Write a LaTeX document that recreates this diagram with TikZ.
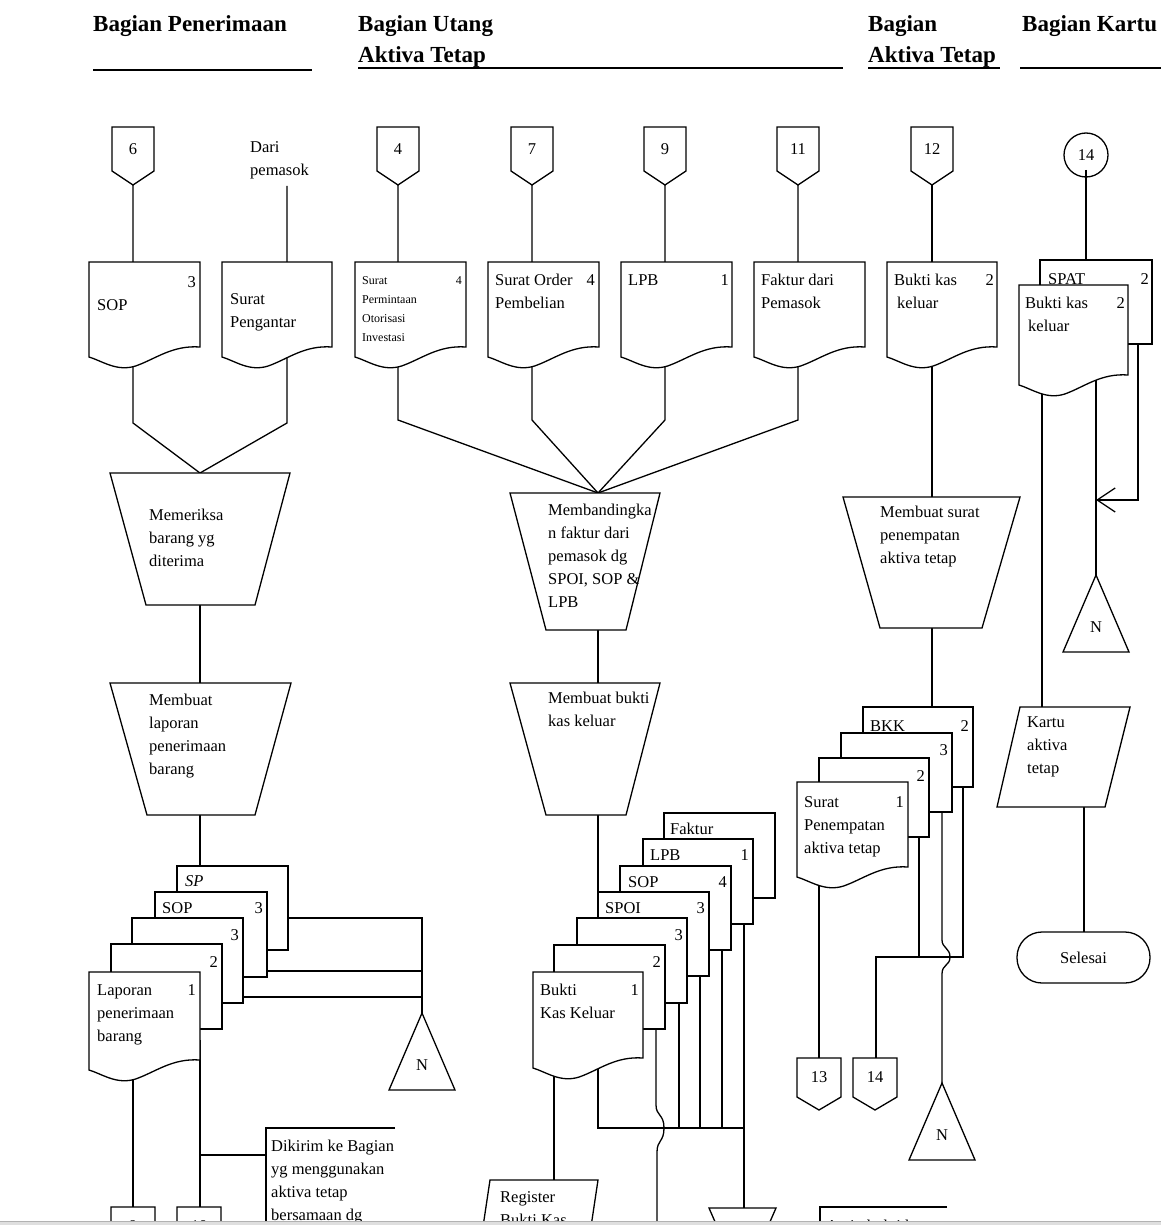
\documentclass[tikz,border=0pt]{standalone}
\usepackage{fontspec}
\setmainfont{Liberation Serif}
\usetikzlibrary{arrows.meta}
\newcommand{\fsz}{\fontsize{16.5}{23}\selectfont}
\newcommand{\fsm}{\fontsize{12}{19}\selectfont}
\newcommand{\fhd}{\fontsize{23}{31}\selectfont\bfseries}
\tikzset{
 ln/.style={line width=1.3pt, line join=miter},
 shp/.style={ln, fill=white},
 hdl/.style={line width=2.2pt},
 tx/.style={anchor=base west, inner sep=0pt, font=\fsz},
 txr/.style={anchor=base east, inner sep=0pt, font=\fsz},
 ml/.style={anchor=north west, inner sep=0pt, font=\fsz, align=left},
 hd/.style={anchor=base west, inner sep=0pt, font=\fhd},
}
% document with wavy bottom: x, y, w, h
\newcommand{\docw}[4]{\begin{scope}[shift={(#1,#2)}]
\filldraw[shp] (0,0) -- (#3,0) -- (#3,{#4-10}) .. controls ({0.75*#3},{#4-12}) and ({0.6*#3},{#4+2}) .. ({0.42*#3},{#4+9}) .. controls ({0.25*#3},{#4+15}) and ({0.12*#3},{#4+4}) .. (0,#4) -- cycle;
\end{scope}}
% back sheet of a stack: x, y, w, h
\newcommand{\docb}[4]{\filldraw[shp] (#1,#2) rectangle ++(#3,#4);}
% off-page connector: name, cx, top, label, side, point, half width
\newcommand{\offpg}[7]{\filldraw[shp] ({#2-#7},#3) -- ({#2+#7},#3) -- ({#2+#7},{#3+#5}) -- (#2,{#3+#6}) -- ({#2-#7},{#3+#5}) -- cycle;
\node[font=\fsz, inner sep=0pt] (#1) at (#2,{#3+#5/2}) {#4};}
% triangle (file): name, apex x, apex y
\newcommand{\filetri}[3]{\filldraw[shp] (#2,#3) -- ({#2+33},{#3+77}) -- ({#2-33},{#3+77}) -- cycle;
\node[font=\fsz, inner sep=0pt] (#1) at (#2,{#3+52}) {N};}
\begin{document}
\begin{tikzpicture}[x=1pt,y=-1pt]
\useasboundingbox (0,0) rectangle (1161,1225);
\fill[white] (0,0) rectangle (1161,1225);
\begin{scope}
\clip (0,0) rectangle (1161,1221);
% ---------- headers
\node[hd] (h1) at (93,32) {Bagian Penerimaan};
\node[hd] (h2a) at (358,32) {Bagian Utang};
\node[hd] (h2b) at (358,63) {Aktiva Tetap};
\node[hd] (h3a) at (868,32) {Bagian};
\node[hd] (h3b) at (868,63) {Aktiva Tetap};
\node[hd] (h4) at (1022,32) {Bagian Kartu};
\draw[hdl] (93,70) -- (312,70);
\draw[hdl] (358,68) -- (843,68);
\draw[hdl] (868,68) -- (1000,68);
\draw[hdl] (1020,68) -- (1161,68);
% ---------- named points
\coordinate (j1) at (200,473);  \coordinate (j1s) at (200,605);
\coordinate (j2) at (200,683);  \coordinate (j2s) at (200,815);
\coordinate (j3) at (598,493);  \coordinate (j3s) at (598,630);
\coordinate (j4) at (598,683);  \coordinate (j4s) at (598,815);
\coordinate (j5) at (932,497);  \coordinate (j5s) at (932,628);
\coordinate (nL) at (422,1013); \coordinate (nR) at (942,1083); \coordinate (nK) at (1096,575);
% ---------- connectors (shapes are drawn over their ends)
\draw[ln] (133,180) -- (133,366) -- (133,423) -- (j1);
\draw[ln] (287,186) -- (287,366) -- (287,423) -- (j1);
\draw[ln] (j1s) -- (j2);
\draw[ln] (j2s) -- (200,900);
\draw[ln] (280,918) -- (422,918) -- (nL);
\draw[ln] (260,971) -- (422,971);
\draw[ln] (235,997) -- (422,997);
\draw[ln] (133,1060) -- (133,1215);
\draw[ln] (200,1040) -- (200,1215);
\draw[ln] (200,1155) -- (266,1155);
\draw[ln] (395,1128) -- (266,1128) -- (266,1230);
\foreach \cx in {398,532,665,798}{\draw[ln] (\cx,180) -- (\cx,420) -- (j3);}
\draw[ln] (j3s) -- (j4);
\draw[ln] (j4s) -- (598,900);
\draw[ln] (598,1050) -- (598,1128) -- (744,1128);
\draw[ln] (679,990) -- (679,1128);
\draw[ln] (700,960) -- (700,1128);
\draw[ln] (722,940) -- (722,1128);
\draw[ln] (744,915) -- (744,1215);
\draw[ln] (656,1020) -- (656,1105) .. controls (656,1116) and (664,1114) .. (664,1128) .. controls (664,1142) and (657,1140) .. (657,1152) -- (657,1230);
\draw[ln] (554,1070) -- (554,1185);
\draw[ln] (932,180) -- (j5);
\draw[ln] (j5s) -- (932,720);
\draw[ln] (963,780) -- (963,957) -- (876,957) -- (876,1062);
\draw[ln] (919,830) -- (919,957);
\draw[ln] (942,800) -- (942,940) .. controls (942,948) and (950,948) .. (950,957) .. controls (950,966) and (942,964) .. (942,974) -- (nR);
\draw[ln] (819,870) -- (819,1062);
\draw[ln] (947,1207) -- (820,1207) -- (820,1230);
\draw[ln] (1086,170) -- (1086,270);
\draw[ln] (1042,380) -- (1042,720);
\draw[ln] (1096,370) -- (nK);
\draw[ln, -{Straight Barb[length=18pt,width=24pt,line width=1.3pt]}] (1138,330) -- (1138,500) -- (1096,500);
\draw[ln] (1084,800) -- (1084,940);
% ---------- off-page connectors
\offpg{c6}{133}{127}{6}{44}{58}{21}
\offpg{c4}{398}{127}{4}{44}{58}{21}
\offpg{c7}{532}{127}{7}{44}{58}{21}
\offpg{c9t}{665}{127}{9}{44}{58}{21}
\offpg{c11}{798}{127}{11}{44}{58}{21}
\offpg{c12}{932}{127}{12}{44}{58}{21}
\offpg{c13}{819}{1058}{13}{39}{52}{22}
\offpg{c14b}{875}{1058}{14}{39}{52}{22}
\offpg{c9}{133}{1207}{9}{39}{52}{22}
\offpg{c10}{199}{1207}{10}{39}{52}{22}
\node[draw, ln, circle, minimum size=44pt, inner sep=0pt, font=\fsz] (c14) at (1086,155) {14};
% ---------- top documents
\docw{89}{262}{111}{95}
\docw{222}{262}{110}{95}
\docw{355}{262}{111}{95}
\docw{488}{262}{111}{95}
\docw{621}{262}{111}{95}
\docw{754}{262}{111}{95}
\docw{887}{262}{110}{95}
\docb{1040}{260}{112}{84}
\docw{1019}{285}{109}{100}
% ---------- processes
\filldraw[shp] (110,473) -- (290,473) -- (255,605) -- (146,605) -- cycle;
\filldraw[shp] (110,683) -- (291,683) -- (255,815) -- (147,815) -- cycle;
\filldraw[shp] (510,493) -- (660,493) -- (626,630) -- (546,630) -- cycle;
\filldraw[shp] (510,683) -- (660,683) -- (626,815) -- (546,815) -- cycle;
\filldraw[shp] (843,497) -- (1020,497) -- (982,628) -- (880,628) -- cycle;
\filldraw[shp] (709,1208) -- (776,1208) -- (762,1240) -- (723,1240) -- cycle;
% ---------- stacks
\docb{177}{866}{111}{84}
\docb{155}{892}{112}{85}
\docb{132}{918}{111}{85}
\docb{111}{944}{111}{85}
\docw{89}{972}{111}{98}
\docb{664}{813}{111}{85}
\docb{643}{839}{110}{85}
\docb{620}{866}{111}{84}
\docb{598}{892}{111}{84}
\docb{577}{918}{110}{85}
\docb{554}{945}{111}{84}
\docw{533}{972}{110}{96}
\docb{863}{707}{110}{80}
\docb{841}{733}{111}{79}
\docb{819}{758}{110}{79}
\docw{797}{782}{111}{95}
% ---------- files, I/O, terminal
\filetri{tL}{422}{1013}
\filetri{tR}{942}{1083}
\filetri{tK}{1096}{575}
\filldraw[shp] (1020,707) -- (1130,707) -- (1105,807) -- (997,807) -- cycle;
\filldraw[shp] (490,1180) -- (598,1180) -- (589,1240) -- (481,1240) -- cycle;
\node[draw, ln, fill=white, rounded corners=25pt, minimum width=133pt, minimum height=51pt, inner sep=0pt, font=\fsz] (sel) at (1083.5,957.5) {Selesai};
% ---------- texts
\node[ml] (dari) at (250,136) {\strut Dari\\pemasok};
\node[tx] (tSOP) at (97,310) {SOP};
\node[txr] at (196,287) {3};
\node[ml] (tPeng) at (230,288) {\strut Surat\\Pengantar};
\node[ml, font=\fsm] (tSPOI) at (362,271) {\strut Surat\\Permintaan\\Otorisasi\\Investasi};
\node[anchor=base east, inner sep=0pt, font=\fsm] at (462,284) {4};
\node[ml] (tSOPb) at (495,269) {\strut Surat Order\\Pembelian};
\node[txr] at (595,285) {4};
\node[tx] (tLPB) at (628,285) {LPB};
\node[txr] at (729,285) {1};
\node[ml] (tFak) at (761,269) {\strut Faktur dari\\Pemasok};
\node[ml] (tBKK1) at (894,269) {\strut Bukti kas\\\hspace{3pt}keluar};
\node[txr] at (994,285) {2};
\node[tx] (tSPAT) at (1048,284) {SPAT};
\node[txr] at (1149,284) {2};
\node[ml] (tBKK2) at (1025,292) {\strut Bukti kas\\\hspace{3pt}keluar};
\node[txr] at (1125,308) {2};
\node[ml] (p1) at (149,504) {\strut Memeriksa\\barang yg\\diterima};
\node[ml] (p2) at (149,689) {\strut Membuat\\laporan\\penerimaan\\barang};
\node[ml] (p3) at (548,499) {\strut Membandingka\\n faktur dari\\pemasok dg\\SPOI, SOP \&\\LPB};
\node[ml] (p4) at (548,687) {\strut Membuat bukti\\kas keluar};
\node[ml] (p5) at (880,501) {\strut Membuat surat\\penempatan\\aktiva tetap};
\node[tx, font=\fsz\itshape] at (185,886) {SP};
\node[tx] at (162,913) {SOP};
\node[txr] at (263,913) {3};
\node[txr] at (239,940) {3};
\node[txr] at (218,967) {2};
\node[ml] (tLap) at (97,979) {\strut Laporan\\penerimaan\\barang};
\node[txr] at (196,995) {1};
\node[tx] at (670,834) {Faktur};
\node[tx] at (650,860) {LPB};
\node[txr] at (749,860) {1};
\node[tx] at (628,887) {SOP};
\node[txr] at (727,887) {4};
\node[tx] at (605,913) {SPOI};
\node[txr] at (705,913) {3};
\node[txr] at (683,940) {3};
\node[txr] at (661,967) {2};
\node[ml] (tBuk) at (540,979) {\strut Bukti\\Kas Keluar};
\node[txr] at (639,995) {1};
\node[tx] at (870,731) {BKK};
\node[txr] at (969,731) {2};
\node[txr] at (948,755) {3};
\node[txr] at (925,781) {2};
\node[ml] (tSur) at (804,791) {\strut Surat\\Penempatan\\aktiva tetap};
\node[txr] at (904,807) {1};
\node[ml] (tKar) at (1027,711) {\strut Kartu\\aktiva\\tetap};
\node[ml] (tDik) at (271,1135) {\strut Dikirim ke Bagian\\yg menggunakan\\aktiva tetap\\bersamaan dg};
\node[ml] (tReg) at (500,1186) {\strut Register\\Bukti Kas};
\node[tx] (tArs) at (826,1231) {Arsip bukti kas};
\node[font=\fsz, inner sep=0pt] (tT) at (743,1227) {T};
\end{scope}
\fill[gray!25] (0,1221) rectangle (1161,1225);
\draw[gray!60, line width=1pt] (0,1221) -- (1161,1221);
\end{tikzpicture}
\end{document}
